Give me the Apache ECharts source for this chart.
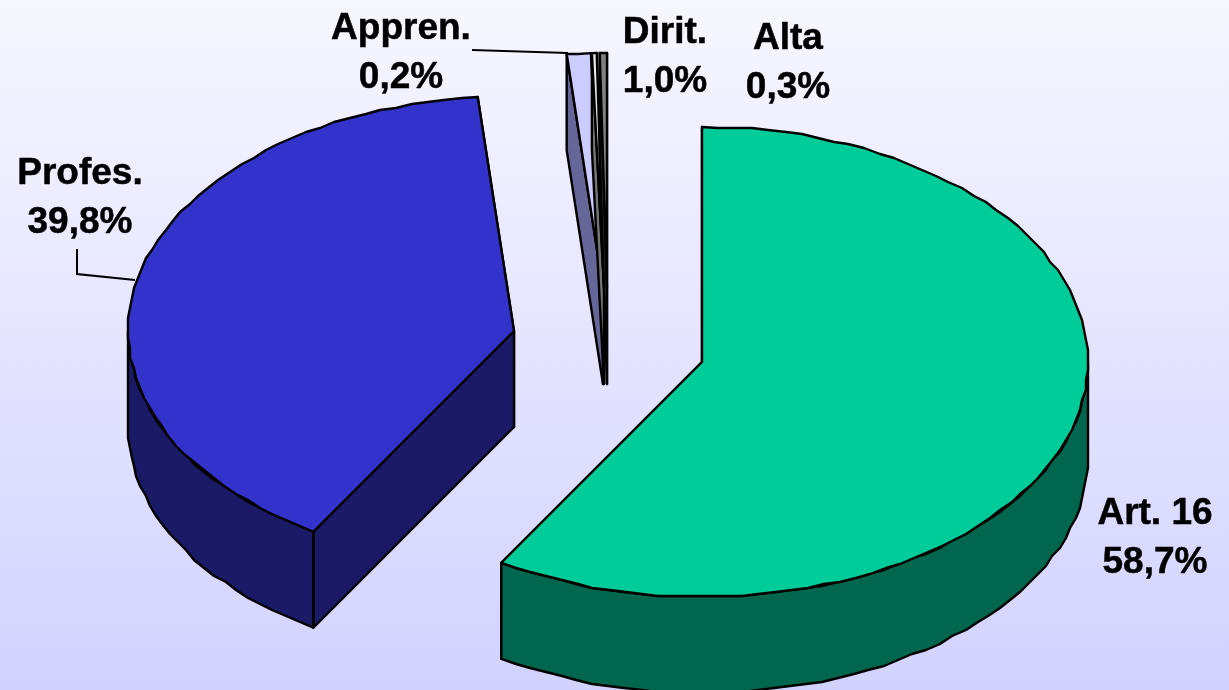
<!DOCTYPE html>
<html>
<head>
<meta charset="utf-8">
<style>
  html, body { margin: 0; padding: 0; }
  #chart { width: 1229px; height: 690px; }
</style>
<script src="https://cdn.jsdelivr.net/npm/echarts@6/dist/echarts.min.js"></script>
</head>
<body>
<div id="chart"></div>
<script>
// values, in the order they go round the pie (clockwise from 12 o'clock)
const names = ['Art. 16', 'Profes.', 'Dirit.', 'Appren.', 'Alta']
const values = [58.7, 39.8, 1.0, 0.2, 0.3]

// look of the slices
const topColors = ['#00CC99', '#3333CC', '#CCCCFF', '#E8E8E8', '#808080']
const sideColors = ['#00664D', '#1A1A66', '#666699', '#747474', '#404040']

// where each exploded slice has its tip on screen
const tips = [[702, 362], [514, 331], [603, 288], [604, 288], [607, 288]]
const labelPos = [[1155, 538], [80, 198], [665, 57], [401, 53], [788, 63]]
const leaders = [
  [[472, 50], [568, 53]],
  [[77, 249], [77, 274], [135, 280]]
]
const drawOrder = [2, 3, 4, 1, 0]
const radiusX = 386
const radiusY = 235
const depth = 96
// the reference outline is slightly stepped, so rim points snap to a small grid
const rimGrid = 2

const total = values.reduce((a, b) => a + b, 0)
const starts = []
values.reduce((sum, v, i) => { starts[i] = sum / total * 360; return sum + v }, 0)

function rimPoint(tip, deg, drop) {
  const r = deg * Math.PI / 180
  return [tip[0] + radiusX * Math.sin(r), tip[1] - radiusY * Math.cos(r) + drop]
}

function arc(tip, from, to, drop) {
  const pts = []
  const steps = Math.max(1, Math.ceil((to - from) / 2.5))
  for (let i = 0; i <= steps; i++) {
    const p = rimPoint(tip, from + (to - from) * i / steps, drop)
    if (i === 0 || i === steps) pts.push(p)
    else pts.push([Math.round(p[0] / rimGrid) * rimGrid, Math.round(p[1] / rimGrid) * rimGrid])
  }
  return pts
}

function poly(points, fill) {
  return {
    type: 'polygon',
    shape: { points: points },
    style: { fill: fill, stroke: '#000', lineWidth: 2.4, lineJoin: 'round' }
  }
}

function drawSlice(params, api) {
  const i = api.value(0)
  const tip = tips[i]
  const from = starts[i]
  const to = from + values[i] / total * 360
  const under = [tip[0], tip[1] + depth]
  const side = sideColors[i]
  const children = []

  // far wall, near wall, then the curved rim, then the lid
  children.push(poly([tip, rimPoint(tip, to, 0), rimPoint(tip, to, depth), under], side))
  children.push(poly([tip, rimPoint(tip, from, 0), rimPoint(tip, from, depth), under], side))

  const a = Math.max(from, 90)
  const b = Math.min(to, 270)
  if (b > a) {
    children.push(poly(arc(tip, a, b, 0).concat(arc(tip, a, b, depth).reverse()), side))
  }
  children.push(poly([tip].concat(arc(tip, from, to, 0)), topColors[i]))
  return { type: 'group', children: children }
}

const labels = names.map((n, i) => ({
  type: 'text',
  x: labelPos[i][0],
  y: labelPos[i][1],
  style: {
    text: n + '\n' + values[i].toFixed(1).replace('.', ',') + '%',
    font: 'bold 37px "Liberation Sans", Arial, sans-serif',
    fill: '#000',
    stroke: '#000',
    lineWidth: 0.5,
    align: 'center',
    verticalAlign: 'middle',
    lineHeight: 49
  }
}))

const leaderLines = leaders.map(points => ({
  type: 'polyline',
  shape: { points: points },
  style: { stroke: '#000', lineWidth: 2, fill: null }
}))

const chart = echarts.init(document.getElementById('chart'), null, { renderer: 'canvas' })

chart.setOption({
  animation: false,
  backgroundColor: new echarts.graphic.LinearGradient(0, 0, 0, 1, [
    { offset: 0, color: '#F7F7FF' },
    { offset: 1, color: '#D2D2FF' }
  ]),
  graphic: leaderLines.concat(labels),
  series: [{
    type: 'custom',
    coordinateSystem: 'none',
    silent: true,
    clip: false,
    data: drawOrder.map(i => [i]),
    renderItem: drawSlice
  }]
})
</script>
</body>
</html>
